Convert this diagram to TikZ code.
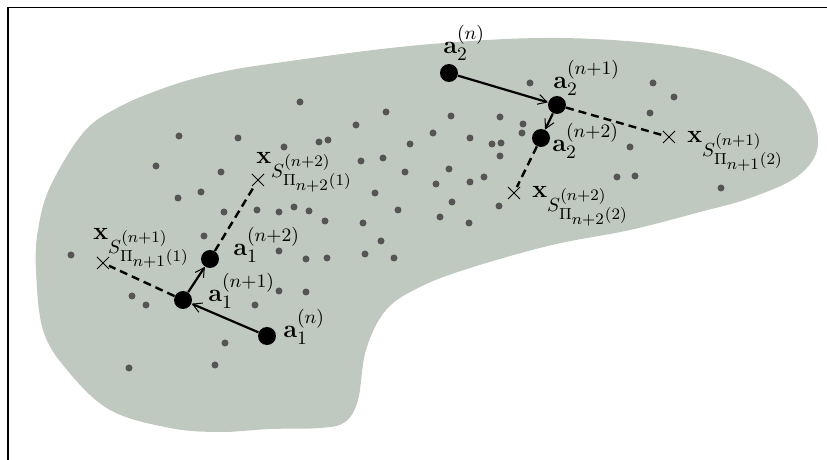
\RequirePackage{fix-cm}
\documentclass[tikz,border=0pt]{standalone}
\usepackage{amsmath,amssymb}
\usetikzlibrary{arrows.meta,shapes.misc}
\DeclareMathSizes{12.5}{12.5}{9.5}{8}
\definecolor{blobgray}{RGB}{192,201,191}
\definecolor{dotgray}{RGB}{85,85,85}

\begin{document}
\begin{tikzpicture}[x=0.5pt, y=-0.5pt, every node/.style={font=\fontsize{12.5}{15}\selectfont},
	iter/.style={circle, fill=black, inner sep=0pt, minimum size=9pt},
	xmark/.style={cross out, draw, line width=0.5pt, inner sep=0pt, minimum size=5.5pt},
	lbl/.style={anchor=north west, inner sep=0pt},
	move/.style={line width=1.1pt, -{Straight Barb[length=4.5pt,width=5pt,line width=0.5pt]}},
	proj/.style={line width=1.2pt, dash pattern=on 4pt off 2.5pt}]
	\useasboundingbox (0,0) rectangle (827,460);
	\draw[line width=0.6pt] (827,7.5) -- (8,7.5) -- (8,460);
	% region
	\fill[blobgray] plot[smooth cycle, tension=0.6] coordinates {(276,63) (420,45) (560,38) (690,48) (765,70) (805,102) (818,145) (798,176) (750,198) (700,212) (630,230) (552,245) (470,268) (420,287) (386,310) (366,350) (358,400) (345,422) (320,428) (270,429) (220,432) (170,428) (110,410) (67,370) (43,330) (36,270) (38,230) (50,187) (83,133) (117,108) (167,87) (217,73)};
	% samples
	\foreach \x/\y in {179/136, 238/138, 156/166, 221/172, 178/198, 201/192, 224/212, 257/210, 279/212, 294/207, 309/211, 325/221, 363/223, 398/210, 375/193,
		300/102, 386/112, 356/125, 451/116, 500/117, 530/83, 523/124, 522/133, 433/133, 470/138, 410/144, 319/142, 328/140, 284/147, 492/144, 501/143, 500/156,
		361/161, 383/158, 449/169, 405/172, 470/182, 484/177, 436/184, 452/202, 499/206, 440/217, 469/223,
		653/83, 674/97, 650/113, 630/147, 617/177, 635/176, 721/188,
		71/255, 204/236, 132/296, 146/305, 255/305, 225/343, 215/365, 129/368,
		279/251, 306/259, 327/258, 365/254, 381/241, 394/258, 279/291, 306/292}
		\fill[dotgray] (\x,\y) circle[radius=3.5];
	% iterates
	\node[iter] (a1n) at (267,336) {};
	\node[iter] (a1n1) at (183,300) {};
	\node[iter] (a1n2) at (210,259) {};
	\node[iter] (a2n) at (449,73) {};
	\node[iter] (a2n1) at (557,105) {};
	\node[iter] (a2n2) at (541,138) {};
	\node[xmark] (x1n1) at (103,263) {};
	\node[xmark] (x1n2) at (258,180) {};
	\node[xmark] (x2n1) at (669,137) {};
	\node[xmark] (x2n2) at (514,193) {};
	\draw[proj] (a1n1) -- (x1n1);
	\draw[proj] (a1n2) -- (x1n2);
	\draw[proj] (a2n1) -- (x2n1);
	\draw[proj] (a2n2) -- (x2n2);
	\draw[move] (a1n) -- (a1n1);
	\draw[move] (a1n1) -- (a1n2);
	\draw[move] (a2n) -- (a2n1);
	\draw[move] (a2n1) -- (a2n2);
	% labels
	\node[lbl] (la1n) at (283,309) {$\mathbf{a}_1^{(n)}$};
	\node[lbl] (la1n1) at (208,273) {$\mathbf{a}_1^{(n+1)}$};
	\node[lbl] (la1n2) at (233,227) {$\mathbf{a}_1^{(n+2)}$};
	\node[lbl] (la2n) at (443,25) {$\mathbf{a}_2^{(n)}$};
	\node[lbl] (la2n1) at (553,60) {$\mathbf{a}_2^{(n+1)}$};
	\node[lbl] (la2n2) at (552,123) {$\mathbf{a}_2^{(n+2)}$};
	\node[lbl] (lx1n1) at (93,228) {$\mathbf{x}_{S^{(n+1)}_{\Pi_{n+1}(1)}}$};
	\node[lbl] (lx1n2) at (256,152) {$\mathbf{x}_{S^{(n+2)}_{\Pi_{n+2}(1)}}$};
	\node[lbl] (lx2n2) at (532,186) {$\mathbf{x}_{S^{(n+2)}_{\Pi_{n+2}(2)}}$};
	\node[lbl] (lx2n1) at (687,131) {$\mathbf{x}_{S^{(n+1)}_{\Pi_{n+1}(2)}}$};
\end{tikzpicture}
\end{document}
